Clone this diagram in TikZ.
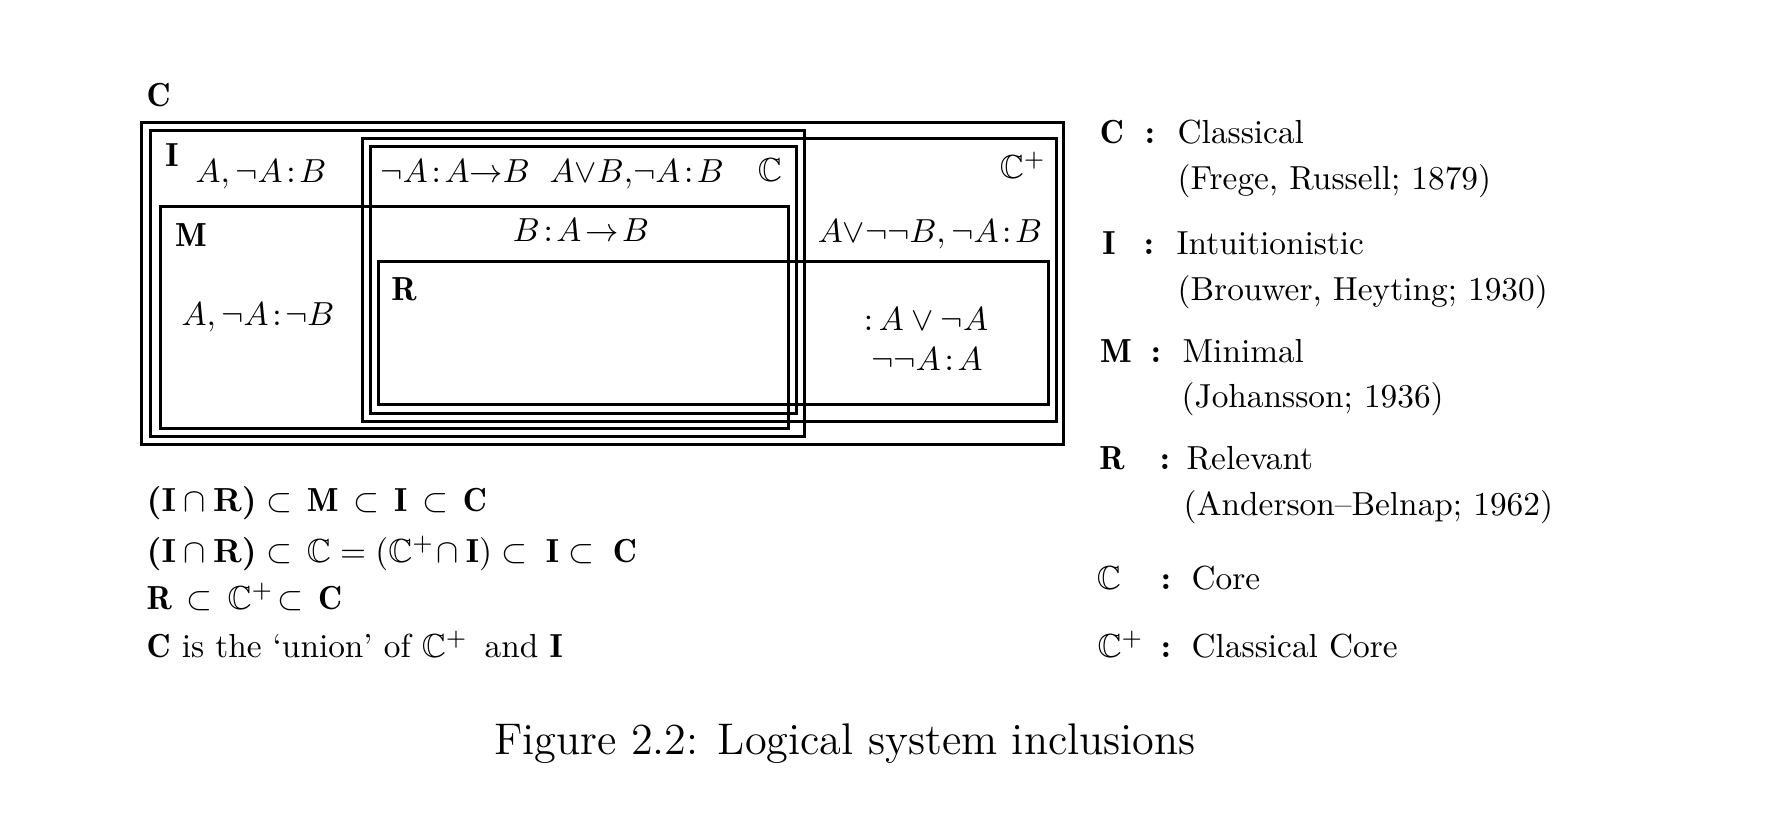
\documentclass[tikz,border=0pt]{standalone}
\usepackage{amssymb}
\usepackage{fontspec}
\begin{document}
\begin{tikzpicture}[x=0.3pt,y=-0.3pt,
  box/.style={line width=0.9pt},
  lbl/.style={inner sep=0pt, anchor=base},
  lft/.style={inner sep=0pt, anchor=base west}]
\useasboundingbox (0,0) rectangle (1765,829);
% sets
\draw[box] (141,123) rectangle (1063,445); % C
\draw[box] (150,131) rectangle (804,437);  % I
\draw[box] (160,207) rectangle (788,429);  % M
\draw[box] (362,139) rectangle (1056,422); % C+
\draw[box] (370,147) rectangle (796,414);  % Core
\draw[box] (378,262) rectangle (1048,405); % R
% labels in diagram
\node[lft] (lC) at (146,107) {$\mathbf{C}$};
\node[lbl] (lI) at (172,167) {$\mathbf{I}$};
\node[lft] (t1) at (195,183) {$A,\neg A\!:\!B$};
\node[lft] (t2) at (380,183) {$\neg A\!:\!A{\to}B$};
\node[lft] (t3) at (549,183) {$A{\vee}B{,}\neg A\!:\!B$};
\node[lbl] (lCore) at (770,182) {$\mathbb{C}$};
\node[lbl] (lCp) at (1023,179) {$\mathbb{C}^+$};
\node[lbl] (lM) at (191,247) {$\mathbf{M}$};
\node[lbl] (t4) at (581,242) {$B\!:\!A\!\to\!B$};
\node[lbl] (t5) at (930,243) {$A{\vee}\neg\neg B,\neg A\!:\!B$};
\node[lbl] (lR) at (404,301) {$\mathbf{R}$};
\node[lbl] (t6) at (258,326) {$A,\neg A\!:\!\neg B$};
\node[lbl] (t7) at (926,331) {${:}\,A\vee\neg A$};
\node[lbl] (t8) at (927,371) {$\neg\neg A\!:\!A$};
% inclusions
\node[lft] (e1) at (146,512) {\textbf{(I}${}\cap{}$\textbf{R)}$\;\subset\,\mathbf{M}\,\subset\,\mathbf{I}\,\subset\,\mathbf{C}$};
\node[lft] (e2) at (146,563) {\textbf{(I}${}\cap{}$\textbf{R)}$\;\subset\,\mathbb{C}=(\mathbb{C}^+\!\cap\mathbf{I})\subset\;\mathbf{I}\subset\;\mathbf{C}$};
\node[lft] (e3) at (146,610) {$\mathbf{R}\,\subset\,\mathbb{C}^+\!\subset\,\mathbf{C}$};
\node[lft] (e4) at (146,658) {$\mathbf{C}$ is the `union' of $\mathbb{C}^+\,$ and $\mathbf{I}$};
% legend
\node[lbl] (kC) at (1112,144) {$\mathbf{C}$};
\node[lbl] (kCc) at (1150,144) {\textbf{:}};
\node[lft] (kCt) at (1177,144) {Classical};
\node[lft] (kCs) at (1177,190) {(Frege, Russell; 1879)};
\node[lbl] (kI) at (1109,255) {$\mathbf{I}$};
\node[lbl] (kIc) at (1149,255) {\textbf{:}};
\node[lft] (kIt) at (1176,255) {Intuitionistic};
\node[lft] (kIs) at (1177,301) {(Brouwer, Heyting; 1930)};
\node[lbl] (kM) at (1116,363) {$\mathbf{M}$};
\node[lbl] (kMc) at (1156,363) {\textbf{:}};
\node[lft] (kMt) at (1182,363) {Minimal};
\node[lft] (kMs) at (1181,408) {(Johansson; 1936)};
\node[lbl] (kR) at (1112,470) {$\mathbf{R}$};
\node[lbl] (kRc) at (1165,470) {\textbf{:}};
\node[lft] (kRt) at (1186,470) {Relevant};
\node[lft] (kRs) at (1183,516) {(Anderson--Belnap; 1962)};
\node[lbl] (kK) at (1109,590) {$\mathbb{C}$};
\node[lbl] (kKc) at (1166,590) {\textbf{:}};
\node[lft] (kKt) at (1191,590) {Core};
\node[lft] (kP) at (1097,658) {$\mathbb{C}^+$};
\node[lbl] (kPc) at (1166,658) {\textbf{:}};
\node[lft] (kPt) at (1191,658) {Classical Core};
% caption
\node[lbl] (cap) at (845,755) {\fontsize{13.3}{16}\selectfont Figure 2.2: Logical system inclusions};
\end{tikzpicture}
\end{document}
